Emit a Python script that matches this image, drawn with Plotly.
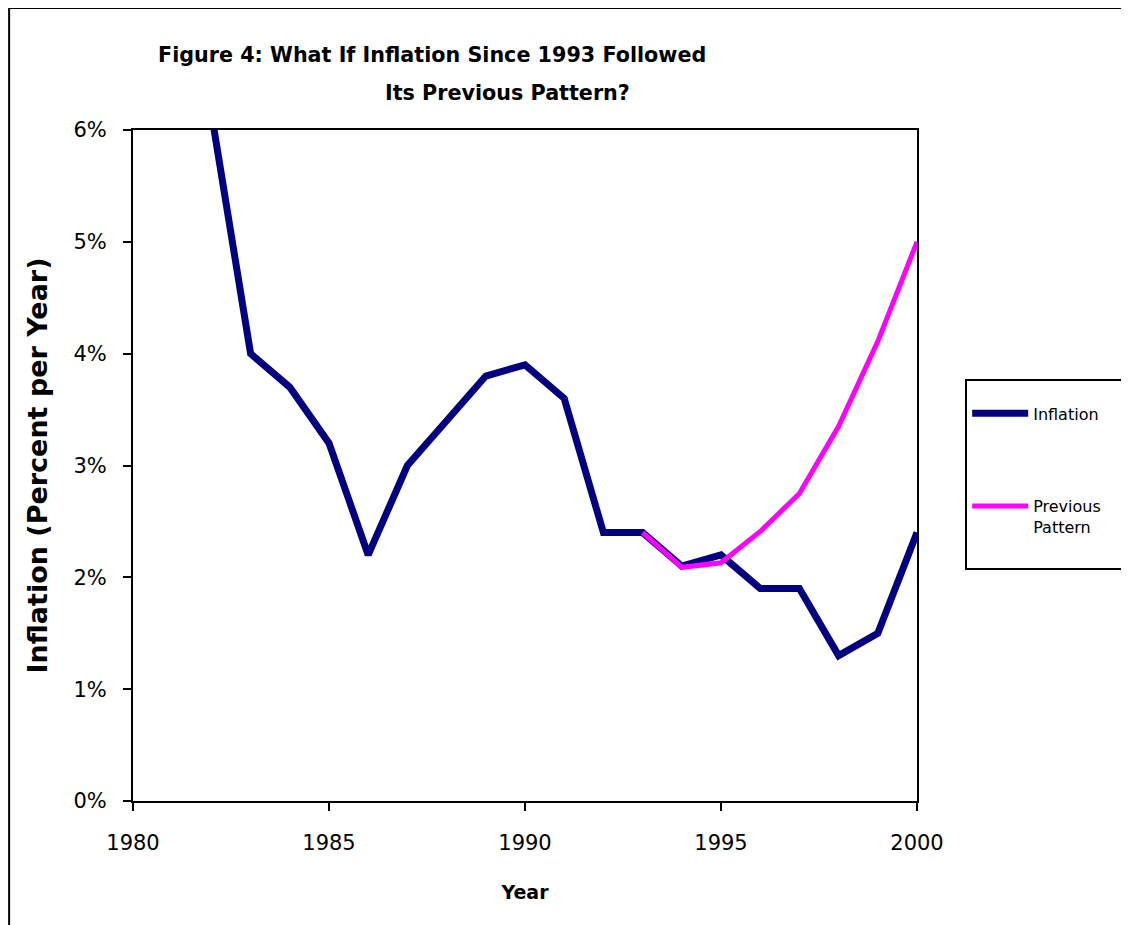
import plotly.graph_objects as go

# ---- data ----
years = list(range(1980, 2001))
inflation = [13.5, 10.3, 6.15, 4.0, 3.7, 3.2, 2.2, 3.0, 3.4, 3.8, 3.9,
             3.6, 2.4, 2.4, 2.1, 2.2, 1.9, 1.9, 1.3, 1.5, 2.4]
prev_years = list(range(1993, 2001))
prev_pattern = [2.4, 2.09, 2.13, 2.41, 2.75, 3.35, 4.11, 5.0]

x_ticks = [1980, 1985, 1990, 1995, 2000]
y_ticks = [0, 1, 2, 3, 4, 5, 6]
y_ticktext = ["0%", "1%", "2%", "3%", "4%", "5%", "6%"]

NAVY = "#000080"
MAGENTA = "#FF00FF"
FONT = "DejaVu Sans"

fig = go.Figure()
fig.add_trace(go.Scatter(x=years, y=inflation, mode="lines", name="Inflation",
                         line=dict(color=NAVY, width=7), legendgroup="a"))
fig.add_trace(go.Scatter(x=prev_years, y=prev_pattern, mode="lines",
                         name="Previous<br>Pattern",
                         line=dict(color=MAGENTA, width=5), legendgroup="b"))

axis_common = dict(showline=True, linecolor="black", linewidth=2, mirror=True,
                   ticks="outside", tickcolor="black", tickwidth=2, ticklen=8,
                   showgrid=False, zeroline=False,
                   tickfont=dict(family=FONT, size=21, color="black"))

# page body adds an 8px offset, so the figure is 8px smaller than the window
fig.update_layout(
    width=1121, height=917,
    paper_bgcolor="white", plot_bgcolor="white",
    margin=dict(l=125, r=212, t=122, b=124),
    font=dict(family=FONT, color="black"),
    xaxis=dict(range=[1980, 2000], tickvals=x_ticks, ticklabelstandoff=14,
               title=dict(text="<b>Year</b>", font=dict(family=FONT, size=19),
                          standoff=31),
               **axis_common),
    yaxis=dict(range=[0, 6], tickvals=y_ticks, ticktext=y_ticktext,
               ticklabelstandoff=12,
               title=dict(text="<b>Inflation (Percent per Year)</b>",
                          font=dict(family=FONT, size=27), standoff=18),
               **axis_common),
    legend=dict(x=1.064, y=0.603, xanchor="left", yanchor="top",
                bgcolor="rgba(0,0,0,0)", traceorder="grouped",
                tracegroupgap=69, valign="top", itemwidth=56,
                font=dict(family=FONT, size=16, color="black")),
    showlegend=True,
)

# legend frame and outer chart frame
fig.add_shape(type="rect", xref="paper", yref="paper",
              x0=1.0625, x1=1.35, y0=0.3458, y1=0.6274,
              line=dict(color="black", width=2))
fig.add_shape(type="rect", xref="paper", yref="paper",
              x0=-0.158, x1=1.35, y0=-0.3, y1=1.1818,
              line=dict(color="black", width=2))

# two-line title
fig.add_annotation(text="<b>Figure 4: What If Inflation Since 1993 Followed</b>",
                   xref="paper", yref="paper", x=0.3814, y=1.1118,
                   xanchor="center", yanchor="middle",
                   showarrow=False, font=dict(family=FONT, size=20.7))
fig.add_annotation(text="<b>Its Previous Pattern?</b>",
                   xref="paper", yref="paper", x=0.478, y=1.0551,
                   xanchor="center", yanchor="middle",
                   showarrow=False, font=dict(family=FONT, size=20.7))

fig.write_html("out.html")
